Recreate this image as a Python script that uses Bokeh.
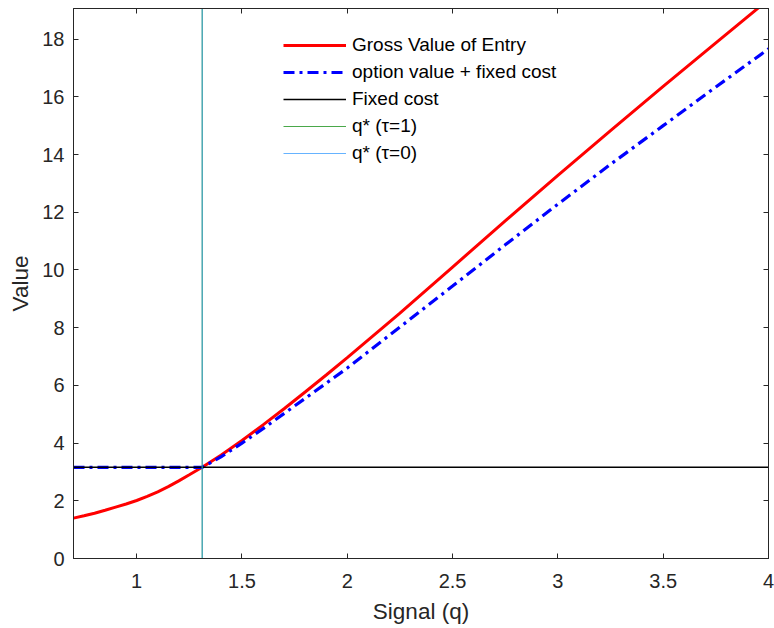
from bokeh.plotting import figure
from bokeh.models import Legend, LegendItem, LinearAxis, Range1d, FixedTicker
from bokeh.embed import file_html
from bokeh.resources import INLINE

# Data
q_gross = [0.7, 0.75, 0.8, 0.85, 0.9, 0.95, 1.0, 1.05, 1.1, 1.15, 1.2, 1.25, 1.311,
           1.4, 1.5, 1.6, 1.7, 1.8, 1.9, 2.0, 2.25, 2.5, 2.75, 3.0, 3.25, 3.5, 3.75, 4.0]
gross_value = [1.40, 1.48, 1.57, 1.67, 1.78, 1.89, 2.01, 2.15, 2.31, 2.49, 2.69, 2.90, 3.16,
               3.58, 4.09, 4.63, 5.19, 5.77, 6.36, 6.96, 8.5, 10.1, 11.7, 13.28, 14.83, 16.36, 17.87, 19.37]

q_option = [0.7, 1.0, 1.311, 1.4, 1.5, 1.6, 1.8, 2.0, 2.25, 2.5, 2.75, 3.0, 3.25, 3.5, 3.75, 4.0]
option_plus_fixed = [3.16, 3.16, 3.16, 3.52, 4.0, 4.5, 5.55, 6.6, 8.02, 9.44, 10.87, 12.28, 13.66, 15.0, 16.34, 17.66]

q_fixed = [0.7, 4.0]
fixed_cost = [3.16, 3.16]

q_star_tau1 = 1.311
q_star_tau0 = 1.311

x_ticks = [1, 1.5, 2, 2.5, 3, 3.5, 4]
y_ticks = [0, 2, 4, 6, 8, 10, 12, 14, 16, 18]
Y_MAX = 19.06

FONT = "Liberation Sans"
TXT = "#262626"

p = figure(width=774, height=628, output_backend="svg", toolbar_location=None,
           x_range=Range1d(0.7, 4.0), y_range=Range1d(0, Y_MAX),
           min_border_left=73, min_border_right=6, min_border_top=8, min_border_bottom=70)
p.background_fill_color = "white"
p.border_fill_color = "white"
p.grid.visible = False
p.outline_line_color = "#262626"
p.outline_line_width = 1

r_red = p.line(q_gross, gross_value, line_color="#ff0000", line_width=3)
r_blue = p.line(q_option, option_plus_fixed, line_color="#0000ff", line_width=3.2, line_dash="11 5 3 5")
r_black = p.line(q_fixed, fixed_cost, line_color="black", line_width=1.5)
r_green = p.line([q_star_tau1, q_star_tau1], [0, Y_MAX], line_color="#4aa84a", line_width=1)
r_lblue = p.line([q_star_tau0, q_star_tau0], [0, Y_MAX], line_color="#0080ff", line_width=1, line_alpha=0.6)

for ax in p.xaxis:
    ax.ticker = FixedTicker(ticks=x_ticks)
    ax.axis_label = "Signal (q)"
for ax in p.yaxis:
    ax.ticker = FixedTicker(ticks=y_ticks)
    ax.axis_label = "Value"

for ax in list(p.xaxis) + list(p.yaxis):
    ax.major_tick_in = 5
    ax.major_tick_out = 0
    ax.minor_tick_line_color = None
    ax.axis_line_color = "#262626"
    ax.major_tick_line_color = "#262626"
    ax.major_label_text_font = FONT
    ax.major_label_text_font_size = "20px"
    ax.major_label_text_color = TXT
    ax.axis_label_text_font = FONT
    ax.axis_label_text_font_size = "22.5px"
    ax.axis_label_text_font_style = "normal"
    ax.axis_label_text_color = TXT

p.xaxis.major_label_standoff = 15
p.xaxis.axis_label_standoff = 8
p.yaxis.major_label_standoff = 9
p.yaxis.axis_label_standoff = 6

top_ax = LinearAxis(ticker=FixedTicker(ticks=x_ticks), major_label_text_font_size="1px",
                    major_label_text_color=None,
                    major_tick_in=5, major_tick_out=0, minor_tick_line_color=None,
                    axis_line_color="#262626", major_tick_line_color="#262626", major_label_standoff=0)
right_ax = LinearAxis(ticker=FixedTicker(ticks=y_ticks), major_label_text_font_size="1px",
                      major_label_text_color=None,
                      major_tick_in=5, major_tick_out=0, minor_tick_line_color=None,
                      axis_line_color="#262626", major_tick_line_color="#262626", major_label_standoff=0)
p.add_layout(top_ax, "above")
p.add_layout(right_ax, "right")

legend = Legend(items=[
    LegendItem(label="Gross Value of Entry", renderers=[r_red]),
    LegendItem(label="option value + fixed cost", renderers=[r_blue]),
    LegendItem(label="Fixed cost", renderers=[r_black]),
    LegendItem(label="q* (τ=1)", renderers=[r_green]),
    LegendItem(label="q* (τ=0)", renderers=[r_lblue]),
], location=(210, 394))
legend.glyph_width = 63
legend.glyph_height = 20
legend.spacing = 5
legend.label_standoff = 6
legend.padding = 0
legend.margin = 0
legend.border_line_color = None
legend.background_fill_alpha = 0
legend.label_text_font = FONT
legend.label_text_font_size = "19px"
legend.label_text_color = "black"
legend.label_height = 20
p.add_layout(legend, "center")

open("out.html", "w").write(file_html(p, INLINE))
